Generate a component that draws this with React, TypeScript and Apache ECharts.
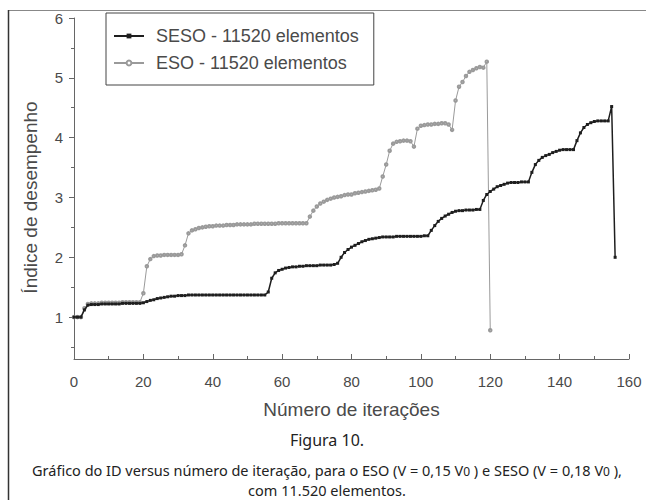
import React, { useEffect, useRef } from "react";
import * as echarts from "echarts";

// Índice de desempenho por iteração (índice do array = número da iteração)
const sesoValues: number[] = [
  1.0, 1.0, 1.0, 1.12, 1.2,
  1.21, 1.21, 1.21, 1.22, 1.22, 1.22, 1.22, 1.22, 1.22, 1.23, 1.23, 1.23, 1.23, 1.23, 1.23,
  1.24, 1.26, 1.28, 1.29, 1.31, 1.32, 1.33, 1.34, 1.35, 1.35, 1.36,
  1.36, 1.36, 1.37, 1.37, 1.37, 1.37, 1.37, 1.37, 1.37, 1.37, 1.37, 1.37, 1.37, 1.37, 1.37, 1.37, 1.37, 1.37, 1.37, 1.37, 1.37, 1.37, 1.37, 1.37, 1.37,
  1.42, 1.65, 1.74, 1.78, 1.8, 1.82, 1.83, 1.84, 1.84, 1.85, 1.85, 1.86, 1.86, 1.86, 1.86, 1.87, 1.87, 1.87, 1.87, 1.88,
  1.9, 2.0, 2.08, 2.13, 2.17, 2.2, 2.23, 2.26, 2.28, 2.3, 2.31, 2.32, 2.33,
  2.34, 2.34, 2.34, 2.34, 2.35, 2.35, 2.35, 2.35, 2.35, 2.35, 2.35, 2.35, 2.36, 2.36,
  2.45, 2.53, 2.6, 2.65, 2.69, 2.72, 2.75, 2.77,
  2.78, 2.78, 2.79, 2.79, 2.79, 2.8, 2.8,
  2.95, 3.05, 3.1, 3.14, 3.18, 3.2, 3.22, 3.24,
  3.25, 3.25, 3.25, 3.26, 3.26, 3.26,
  3.42, 3.55, 3.62, 3.67, 3.7, 3.72, 3.75, 3.77, 3.79,
  3.8, 3.8, 3.8, 3.8,
  3.95, 4.08, 4.17, 4.22, 4.25, 4.27,
  4.28, 4.28, 4.28, 4.28,
  4.52, 2.0,
];

const esoValues: number[] = [
  1.0, 1.0, 1.0, 1.15, 1.22,
  1.23, 1.23, 1.23, 1.24, 1.24, 1.24, 1.24, 1.24, 1.24, 1.25, 1.25, 1.25, 1.25, 1.25, 1.25,
  1.4, 1.85, 1.97, 2.02,
  2.03, 2.03, 2.04, 2.04, 2.04, 2.04, 2.04, 2.05,
  2.2, 2.4, 2.45, 2.47, 2.49, 2.5, 2.51, 2.52, 2.52,
  2.53, 2.53, 2.53, 2.54, 2.54, 2.54, 2.55, 2.55, 2.55, 2.55, 2.55, 2.56, 2.56, 2.56, 2.56, 2.56, 2.56, 2.56, 2.57, 2.57, 2.57, 2.57, 2.57, 2.57, 2.57, 2.57, 2.57,
  2.68, 2.78, 2.85, 2.9, 2.93, 2.96, 2.98, 3.0, 3.01, 3.02, 3.04, 3.05, 3.05, 3.07, 3.08, 3.09, 3.1, 3.11, 3.12, 3.13, 3.15,
  3.35, 3.55, 3.78, 3.9, 3.93, 3.94, 3.95, 3.95, 3.94, 3.85,
  4.15, 4.2, 4.21, 4.22, 4.22, 4.23, 4.23, 4.24, 4.24, 4.22,
  4.13,
  4.62, 4.85, 4.93, 5.03, 5.1, 5.13, 5.16, 5.18, 5.17, 5.27,
  0.78,
];

const seriesNames = ["SESO - 11520 elementos", "ESO - 11520 elementos"];
const yMajorTicks = [1, 2, 3, 4, 5, 6];
const yMinorTicks = [0.5, 1.5, 2.5, 3.5, 4.5, 5.5];

const xAxisTitle = "Número de iterações";
const yAxisTitle = "Índice de desempenho";
const figureTitle = "Figura 10.";
const captionLine1 =
  "Gráfico do ID versus número de iteração, para o ESO (V = 0,15 V{s|0} ) e SESO (V = 0,18 V{s|0} ),";
const captionLine2 = "com 11.520 elementos.";

export default function App() {
  const ref = useRef<HTMLDivElement>(null);
  useEffect(() => {
    document.body.style.margin = "0";
    if (!ref.current) return;
    const chart = echarts.init(ref.current, undefined, { renderer: "svg" });
    const axisColor = "#666";
    const textColor = "#4a4a4a";
    const font = "'Liberation Sans', Arial, sans-serif";
    const capFont = "'Noto Sans', 'Open Sans', sans-serif";
    chart.setOption({
      animation: false,
      backgroundColor: "#fff",
      grid: { left: 74, right: 17, top: 18, bottom: 141, containLabel: false },
      legend: {
        data: seriesNames,
        orient: "vertical",
        left: 106,
        top: 13,
        padding: [14, 15, 13, 7],
        itemGap: 9,
        itemWidth: 30,
        itemHeight: 6,
        borderColor: "#444",
        borderWidth: 1,
        textStyle: { fontFamily: font, fontSize: 18, color: textColor, padding: [0, 0, 0, 7] },
      },
      xAxis: {
        type: "value",
        min: 0,
        max: 160,
        interval: 20,
        name: xAxisTitle,
        nameLocation: "middle",
        nameGap: 41,
        nameTextStyle: { fontFamily: font, fontSize: 19, color: textColor },
        axisLine: { lineStyle: { color: axisColor, width: 1 } },
        axisTick: { inside: true, length: 5, lineStyle: { color: axisColor } },
        minorTick: { show: true, splitNumber: 2, length: 3, lineStyle: { color: axisColor } },
        axisLabel: { fontFamily: font, fontSize: 15, color: textColor, margin: 15 },
        splitLine: { show: false },
      },
      yAxis: [
        {
          type: "value",
          min: 0.3,
          max: 6,
          name: yAxisTitle,
          nameLocation: "middle",
          nameGap: 34,
          nameTextStyle: { fontFamily: font, fontSize: 19, color: textColor, padding: [0, 18, 0, 0] },
          axisLine: { show: true, lineStyle: { color: axisColor, width: 1 } },
          axisTick: { show: true, length: 5, customValues: yMajorTicks, lineStyle: { color: axisColor } },
          axisLabel: { fontFamily: font, fontSize: 15, color: textColor, margin: 11, customValues: yMajorTicks },
          splitLine: { show: false },
        },
        {
          type: "value",
          min: 0.3,
          max: 6,
          position: "left",
          axisLine: { show: false },
          axisTick: { show: true, length: 3, customValues: yMinorTicks, lineStyle: { color: axisColor } },
          axisLabel: { show: false },
          splitLine: { show: false },
        },
      ],
      series: [
        {
          name: seriesNames[0],
          type: "line",
          data: sesoValues.map((v, i) => [i, v]),
          symbol: "rect",
          symbolSize: 3,
          showSymbol: true,
          lineStyle: { color: "#1e1e1e", width: 1.5 },
          itemStyle: { color: "#1e1e1e" },
          z: 3,
        },
        {
          name: seriesNames[1],
          type: "line",
          data: esoValues.map((v, i) => [i, v]),
          symbol: "emptyCircle",
          symbolSize: 2.5,
          showSymbol: true,
          lineStyle: { color: "#9a9a9a", width: 1 },
          itemStyle: { color: "#9a9a9a", borderColor: "#9a9a9a", borderWidth: 0.7 },
          z: 2,
        },
      ],
      graphic: [
        { type: "line", shape: { x1: 8, y1: 10.5, x2: 646, y2: 10.5 }, style: { stroke: "#888", lineWidth: 1 } },
        { type: "line", shape: { x1: 8.5, y1: 10, x2: 8.5, y2: 500 }, style: { stroke: "#333", lineWidth: 1.5 } },
        {
          type: "text",
          x: 327,
          y: 440,
          style: {
            text: figureTitle,
            fontFamily: capFont,
            fontSize: 16,
            fill: "#222",
            align: "center",
            verticalAlign: "middle",
          },
        },
        {
          type: "text",
          x: 327,
          y: 470,
          style: {
            text: captionLine1,
            fontFamily: capFont,
            fontSize: 14.5,
            lineHeight: 15,
            fill: "#222",
            align: "center",
            verticalAlign: "middle",
            rich: {
              s: { fontSize: 12, fontFamily: capFont, fill: "#222", lineHeight: 15, verticalAlign: "bottom" },
            },
          },
        },
        {
          type: "text",
          x: 327,
          y: 490,
          style: {
            text: captionLine2,
            fontFamily: capFont,
            fontSize: 14.5,
            lineHeight: 15,
            fill: "#222",
            align: "center",
            verticalAlign: "middle",
          },
        },
      ],
    });
    return () => chart.dispose();
  }, []);
  return <div ref={ref} style={{ width: 646, height: 500 }} />;
}
